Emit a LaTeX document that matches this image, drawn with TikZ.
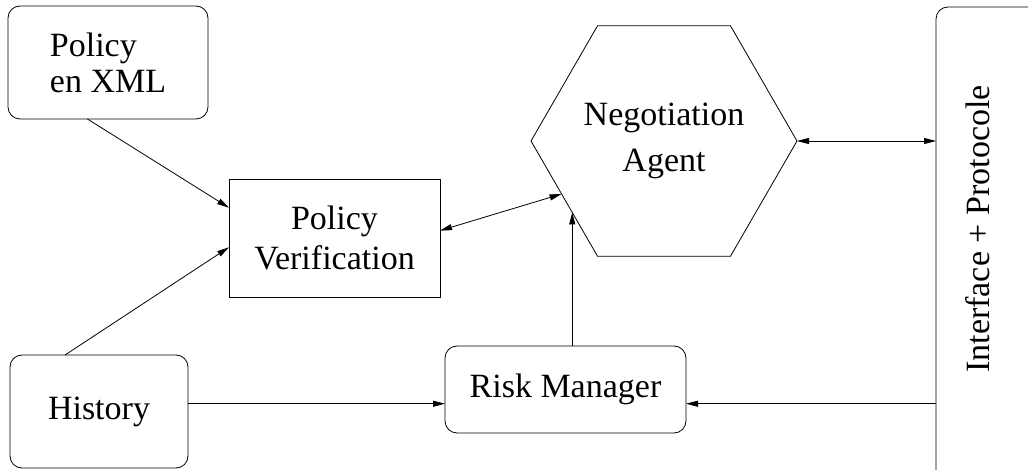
\documentclass[tikz,border=0pt]{standalone}
\usepackage{fontspec}
\setmainfont{Liberation Serif}
\usetikzlibrary{shapes.geometric,arrows.meta,calc}
\begin{document}
\begin{tikzpicture}[x=0.75pt,y=-0.75pt,
  every node/.style={font=\fontsize{25.5}{30}\selectfont,inner sep=0pt,outer sep=0pt},
  rbox/.style={draw,rounded corners=9pt,line width=0.6pt},
  sbox/.style={draw,line width=0.6pt},
  link/.style={line width=0.6pt,-{Triangle[length=9pt,width=4.5pt]}},
  dlink/.style={line width=0.6pt,{Triangle[length=9pt,width=4.5pt]}-{Triangle[length=9pt,width=4.5pt]}}]
  \useasboundingbox (0,0) rectangle (1028,470);
  % boxes
  \node[rbox,minimum width=150pt,minimum height=84.75pt,align=left] (xml) at (108,62.5) {Policy\\[-3pt]en XML};
  \node[sbox,minimum width=158.25pt,minimum height=88.5pt,align=center] (pv) at (334.5,238) {Policy\\Verification};
  \node[draw,line width=0.6pt,regular polygon,regular polygon sides=6,minimum size=199.5pt,align=center] (hex) at (664,141) {Negotiation\\[5pt]Agent};
  \node[rbox,minimum width=133.5pt,minimum height=84.75pt] (hist) at (99,411.5) {History};
  \node[rbox,minimum width=180.75pt,minimum height=65.25pt] (rm) at (565.5,389.5) {Risk Manager};
  \node[rbox,minimum width=100.5pt,minimum height=384.75pt] (iface) at (1003,263.5) {};
  \node[rotate=90] (ifacetext) at (978,229) {Interface + Protocole};
  % arrows
  \coordinate (hexin) at ($(hex.corner 3)!0.46!(hex.corner 4)$);
  \coordinate (rmin) at ($(hex.corner 3)!0.62!(hex.corner 4)$);
  \draw[link] (xml.-110) -- (pv.164);
  \draw[link] (hist.121) -- (pv.185);
  \draw[dlink] (pv.4) -- (hexin);
  \draw[link] (rm.north -| rmin) -- (rmin);
  \draw[dlink] (hex.corner 6) -- (iface.west |- hex.corner 6);
  \draw[link] (hist.5) -- (rm.west |- hist.5);
  \draw[link] (iface.west |- hist.5) -- (rm.east |- hist.5);
\end{tikzpicture}
\end{document}
